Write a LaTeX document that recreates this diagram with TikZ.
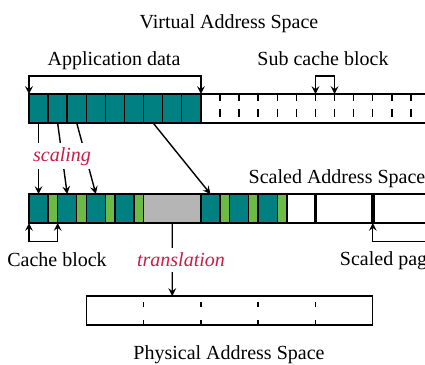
\documentclass[tikz,border=0pt]{standalone}
\usepackage{fontspec}
\setmainfont{Liberation Serif}
\usetikzlibrary{arrows}
\definecolor{bloc}{RGB}{0,128,128}
\definecolor{vert}{RGB}{108,187,69}
\definecolor{gris}{RGB}{180,181,180}
\definecolor{rouge}{RGB}{200,30,70}
\def\cw{19.1}

\begin{document}
\begin{tikzpicture}[x=0.5pt, y=-0.5pt, line width=0.7pt, >=stealth,
		cellule/.style={minimum height=14.5pt, inner sep=0pt, outer sep=0pt, anchor=north west},
		titre/.style={anchor=base},
		etape/.style={anchor=base, fill=white, text=rouge, font=\itshape}]
		\useasboundingbox (0,0) rectangle (425,365);
		
		% Espace virtuel
		\foreach \i in {1,...,9}
			\node[cellule, draw, fill=bloc, minimum width=\cw*0.5pt] (v\i) at ({29+(\i-1)*\cw},94) {};
		\foreach \i in {10,...,22}
			\node[cellule, minimum width=\cw*0.5pt] (v\i) at ({29+(\i-1)*\cw},94) {};
		\draw (v9.north east) -- (v22.north east);
		\draw (v9.south east) -- (v22.south east);
		\foreach \i in {10,...,21}
			\draw[dash pattern=on 3.7pt off 4pt] (v\i.north east) -- (v\i.south east);
		
		% Espace mis à l'échelle
		\foreach \n/\p/\l/\c in {t1/0/1/bloc, g1/1/0.5/vert, t2/1.5/1/bloc, g2/2.5/0.5/vert,
				t3/3/1/bloc, g3/4/0.5/vert, t4/4.5/1/bloc, g4/5.5/0.5/vert, gr/6/3/gris,
				t5/9/1/bloc, g5/10/0.5/vert, t6/10.5/1/bloc, g6/11.5/0.5/vert, t7/12/1/bloc, g7/13/0.5/vert}
			\node[cellule, draw, fill=\c, minimum width=\l*\cw*0.5pt] (\n) at ({29+\p*\cw},194) {};
		\foreach \n/\p/\l in {w1/13.5/1.5, w2/15/3, w3/18/3}
			\node[cellule, minimum width=\l*\cw*0.5pt] (\n) at ({29+\p*\cw},194) {};
		\draw (g7.north east) -- (w3.north east);
		\draw (g7.south east) -- (w3.south east);
		\draw[line width=1.8pt] (w1.north east) -- (w1.south east);
		\draw[line width=1.8pt] (w2.north east) -- (w2.south east);
		
		% Espace physique
		\foreach \i in {1,...,5}
			\node[cellule, minimum width=3*\cw*0.5pt] (p\i) at ({86.3+(\i-1)*3*\cw},296) {};
		\draw (p1.north west) rectangle (p5.south east);
		\foreach \i in {1,...,4}
			\draw[dash pattern=on 2.5pt off 6.5pt] (p\i.south east) -- (p\i.north east);
		
		% Titres
		\node[titre] (virt) at (229,28) {Virtual Address Space};
		\node[titre] (scal) at (337,183) {Scaled Address Space};
		\node[titre] (phys) at (229,359) {Physical Address Space};
		\node[titre] (app) at (114,65) {Application data};
		\node[titre] (sub) at (323,65) {Sub cache block};
		\node[titre] (cache) at (57,266) {Cache block};
		\node[titre] (page) at (388,265) {Scaled page};
		
		% Accolades
		\draw[<->] (v1.north west) -- ++(0,-18) -| (v9.north east);
		\draw[<->] (v16.north west) -- ++(0,-18) -| (v16.north east);
		\draw[<->] (t1.south west) -- ++(0,18.7) -| (t2.south west);
		\draw[<->] (w3.south west) -- ++(0,18.7) -| (w3.south east);
		
		% Flèches
		\draw[->] (v1.south) -- (t1.north);
		\draw[->] (v2.south) -- (t2.north);
		\draw[->] (v3.south) -- (t3.north);
		\draw[->] (v7.south) -- (t5.north);
		\draw[->] (gr.south) -- (p2.north);
		\node[etape, inner sep=2pt] (scaling) at (62,161) {scaling};
		\node[etape, inner sep=2.5pt] (transl) at (181,266.5) {translation};
	\end{tikzpicture}
\end{document}
